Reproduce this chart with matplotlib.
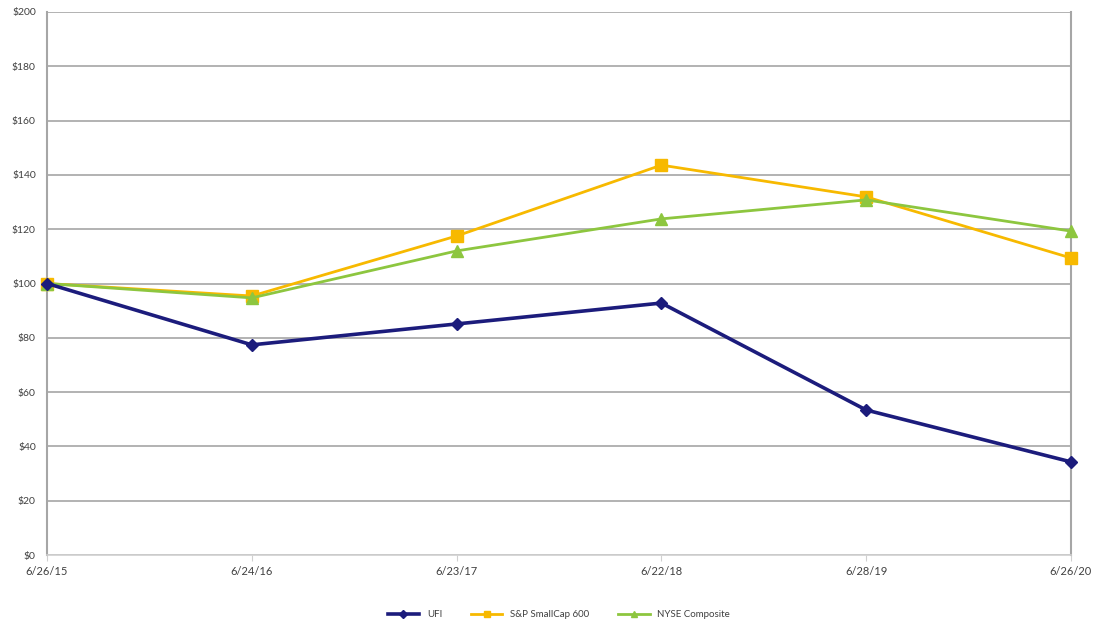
import matplotlib
matplotlib.use("Agg")
import matplotlib.pyplot as plt

dates = ["6/26/15", "6/24/16", "6/23/17", "6/22/18", "6/28/19", "6/26/20"]
ufi = [100, 77.4, 85.1, 92.8, 53.4, 34.3]
sp600 = [100, 95.4, 117.5, 143.6, 131.9, 109.4]
nyse = [100, 94.7, 112.0, 123.8, 130.8, 119.3]
y_ticks = list(range(0, 201, 20))
y_labels = [f"${v}" for v in y_ticks]

plt.rcParams['font.family'] = ['Lato', 'DejaVu Sans']

fig = plt.figure(figsize=(10.93, 6.26), dpi=100)
ax = fig.add_axes([47 / 1093, (626 - 555) / 626, (1071 - 47) / 1093, (555 - 12) / 626])

x = list(range(len(dates)))
ax.plot(x, ufi, color="#1c1c7c", lw=2.6, marker="D", ms=6.5, label="UFI", zorder=5, clip_on=False)
ax.plot(x, sp600, color="#f7b900", lw=2.0, marker="s", ms=8, label="S&P SmallCap 600", zorder=4, clip_on=False)
ax.plot(x, nyse, color="#8dc63f", lw=2.0, marker="^", ms=8, label="NYSE Composite", zorder=4, clip_on=False)

ax.set_xlim(0, len(dates) - 1)
ax.set_ylim(0, 200)
ax.set_yticks(y_ticks)
ax.set_yticklabels(y_labels)
ax.set_xticks(x)
ax.set_xticklabels(dates)
ax.yaxis.grid(True, color="#a6a6a6", lw=1.2)
ax.set_axisbelow(True)

for side in ["left", "right"]:
    ax.spines[side].set_color("#a6a6a6")
    ax.spines[side].set_linewidth(1.5)
ax.spines["top"].set_visible(False)
ax.spines["bottom"].set_color("#d0d0d0")
ax.spines["bottom"].set_linewidth(1.2)

ax.tick_params(axis="y", length=0, pad=8, labelsize=7.5, labelcolor="#404040")
ax.tick_params(axis="x", length=4, color="#d0d0d0", pad=4, labelsize=8, labelcolor="#404040")

ax.legend(loc="upper center", bbox_to_anchor=(0.5, -0.085), ncol=3, frameon=False,
          fontsize=7, handlelength=3.2, columnspacing=3, labelcolor="#404040",
          markerscale=0.6)

fig.savefig("out.png", dpi=100)
